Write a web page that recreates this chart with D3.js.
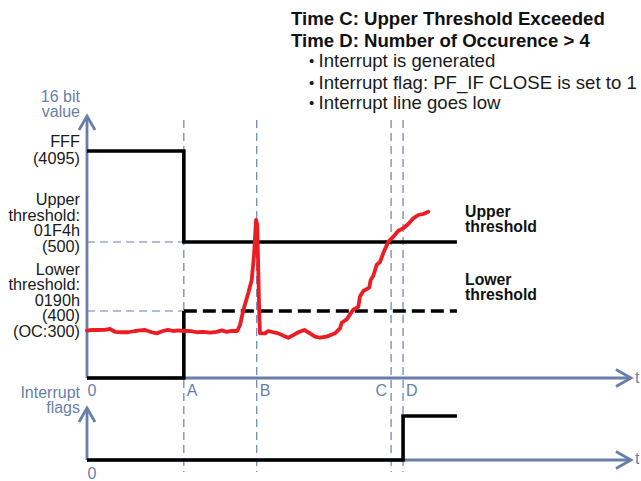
<!DOCTYPE html>
<html><head><meta charset="utf-8">
<script src="https://cdn.jsdelivr.net/npm/d3@7"></script>
<style>
html,body{margin:0;padding:0;background:#fff;}
svg{display:block;font-family:"Liberation Sans",Arial,Helvetica,sans-serif;}
</style></head>
<body>
<svg id="chart" width="641" height="481"></svg>
<script>
// ---------- data ----------
const eventNames = ["A", "B", "C", "D"];
const eventTimes = [17.8, 31.2, 55.9, 58.1];
const lineEnd = 68;

const yTickValues = [4095, 500, 400];
const yTickLabels = [["FFF", "(4095)"], ["Upper", "threshold:", "01F4h", "(500)"], ["Lower", "threshold:", "0190h", "(400)", "(OC:300)"]];

const upperSigT = [0, 17.8, 17.8, 68];
const upperSigV = [4095, 4095, 500, 500];
const lowerSolidT = [0, 17.8, 17.8];
const lowerSolidV = [0, 0, 400];
const lowerDashT = [17.8, 68];
const lowerDashV = [400, 400];

const flagT = [0, 58.1, 58.1, 68];
const flagV = [0, 0, 1, 1];

const redT = [0, 0.92, 2.02, 3.31, 4.23, 5.15, 6.38, 7.54, 8.82, 9.74, 10.66, 11.89, 12.81, 13.97, 14.89, 15.81, 16.73, 17.65,
  19.0, 20.17, 21.32, 22.61, 23.84, 24.76, 25.68, 26.6, 27.63, 28.13, 28.73, 29.65, 30.28, 30.7, 31.07, 31.3, 31.49, 31.67, 31.8,
  32.72, 33.33, 34.25, 35.17, 36.09, 37.0, 37.92, 38.84, 39.94, 40.99, 41.91, 42.83, 44.06, 45.59, 46.51, 46.82, 47.74, 48.47,
  48.95, 49.87, 50.18, 50.79, 51.89, 52.15, 52.63, 53.25, 53.86, 54.47, 55.39, 56.31, 57.22, 58.14, 59.06, 59.98, 60.9, 61.82, 62.74];
const redV = [302, 305, 305, 306, 310, 295, 292, 292, 300, 303, 305, 292, 285, 300, 306, 300, 303, 300,
  300, 292, 295, 289, 294, 303, 294, 301, 300, 330, 401, 426, 445, 481, 1369, 1172, 457, 380, 285,
  285, 300, 292, 285, 270, 257, 274, 292, 305, 285, 264, 257, 264, 285, 313, 341, 358, 388,
  402, 406, 421, 429, 434, 445, 451, 467, 471, 484, 512, 709, 946, 1041, 1211, 1436, 1567, 1606, 1697];

const titleLines = ["Time C: Upper Threshold Exceeded", "Time D: Number of Occurence > 4"];
const bulletLines = ["Interrupt is generated", "Interrupt flag: PF_IF CLOSE is set to 1", "Interrupt line goes low"];
const rightLabels = [["Upper", "threshold"], ["Lower", "threshold"]];

// ---------- drawing ----------
const axisColor = "#6a7fa8";
const svg = d3.select("#chart");

const x = d3.scaleLinear().domain([0, 100]).range([87, 631]);
const y = d3.scaleLinear().domain([0, 300, 400, 500, 4095]).range([378, 331, 311, 242, 151]);
const yFlag = d3.scaleLinear().domain([0, 1]).range([460, 416]);

// event dashed verticals
svg.append("g").selectAll("line").data(eventTimes).join("line")
  .attr("x1", d => x(d)).attr("x2", d => x(d))
  .attr("y1", 120).attr("y2", 472)
  .attr("stroke", axisColor).attr("stroke-width", 1.2).attr("stroke-dasharray", "8,5");

// horizontal threshold guides
svg.append("g").selectAll("line").data([500, 400]).join("line")
  .attr("x1", x(0)).attr("x2", x(eventTimes[0]))
  .attr("y1", d => y(d)).attr("y2", d => y(d))
  .attr("stroke", axisColor).attr("stroke-width", 1.2).attr("stroke-dasharray", "8,5");

// axes
function hArrow(yy) {
  svg.append("line").attr("x1", x(0)).attr("x2", x(100)).attr("y1", yy).attr("y2", yy)
    .attr("stroke", axisColor).attr("stroke-width", 2.8);
  svg.append("path").attr("d", `M${x(100) - 15},${yy - 8.5}L${x(100)},${yy}L${x(100) - 15},${yy + 8.5}`)
    .attr("fill", "none").attr("stroke", axisColor).attr("stroke-width", 2.8).attr("stroke-linejoin", "miter");
}
function vArrow(y0, y1) {
  svg.append("line").attr("x1", x(0)).attr("x2", x(0)).attr("y1", y0).attr("y2", y1)
    .attr("stroke", axisColor).attr("stroke-width", 2.8);
  svg.append("path").attr("d", `M${x(0) - 8},${y1 + 14}L${x(0)},${y1}L${x(0) + 8},${y1 + 14}`)
    .attr("fill", "none").attr("stroke", axisColor).attr("stroke-width", 2.8);
}
hArrow(y(0));
hArrow(yFlag(0));
vArrow(y(0), 116);
vArrow(yFlag(0), 408);

// signal lines
const line = d3.line().x(d => x(d[0])).y(d => y(d[1]));
const zip = (a, b) => a.map((v, i) => [v, b[i]]);
svg.append("path").attr("d", line(zip(upperSigT, upperSigV)))
  .attr("fill", "none").attr("stroke", "#000").attr("stroke-width", 3.6).attr("stroke-linejoin", "miter");
svg.append("path").attr("d", line(zip(lowerSolidT, lowerSolidV)))
  .attr("fill", "none").attr("stroke", "#000").attr("stroke-width", 3.6).attr("stroke-linejoin", "miter");
svg.append("path").attr("d", line(zip(lowerDashT, lowerDashV)))
  .attr("fill", "none").attr("stroke", "#000").attr("stroke-width", 3.6).attr("stroke-dasharray", "13,6");
const flagLine = d3.line().x(d => x(d[0])).y(d => yFlag(d[1]));
svg.append("path").attr("d", flagLine(zip(flagT, flagV)))
  .attr("fill", "none").attr("stroke", "#000").attr("stroke-width", 3.6).attr("stroke-linejoin", "miter");

// red measured signal
svg.append("path").attr("d", d3.line().x(d => x(d[0])).y(d => y(d[1])).curve(d3.curveLinear)(zip(redT, redV)))
  .attr("fill", "none").attr("stroke", "#ec1c24").attr("stroke-width", 3.8)
  .attr("stroke-linejoin", "round").attr("stroke-linecap", "round");

// left tick labels
const lblX = 80;
const fsL = 16.3;
const labelBase = [[147, 164], [205, 220.5, 236, 251.5], [275, 290, 305.5, 321, 337]];
yTickLabels.forEach((lines, i) => {
  const t = svg.append("text").attr("text-anchor", "end").attr("font-size", fsL).attr("fill", "#1a1a1a");
  lines.forEach((s, j) => t.append("tspan").attr("x", lblX).attr("y", labelBase[i][j]).text(s));
});

// axis titles
const ax1 = svg.append("text").attr("text-anchor", "end").attr("font-size", 16).attr("fill", axisColor);
ax1.append("tspan").attr("x", lblX).attr("y", 102).text("16 bit");
ax1.append("tspan").attr("x", lblX).attr("y", 117).text("value");
const ax2 = svg.append("text").attr("text-anchor", "end").attr("font-size", 16).attr("fill", axisColor);
ax2.append("tspan").attr("x", lblX).attr("y", 398).text("Interrupt");
ax2.append("tspan").attr("x", lblX).attr("y", 413).text("flags");

// zero / t / event labels
svg.append("text").attr("x", x(0) + 0.5).attr("y", 396).attr("font-size", 16).attr("fill", axisColor).text("0");
svg.append("text").attr("x", x(0) + 0.5).attr("y", 479).attr("font-size", 16).attr("fill", axisColor).text("0");
svg.append("text").attr("x", 635).attr("y", 383).attr("font-size", 16).attr("fill", axisColor).text("t");
svg.append("text").attr("x", 635).attr("y", 464).attr("font-size", 16).attr("fill", axisColor).text("t");
eventNames.forEach((n, i) => {
  const left = n === "C";
  svg.append("text").attr("x", x(eventTimes[i]) + (left ? -4 : 3)).attr("y", 396)
    .attr("text-anchor", left ? "end" : "start")
    .attr("font-size", 16).attr("fill", axisColor).text(n);
});

// right labels
const rightBase = [[217, 232], [285, 300]];
rightLabels.forEach((lines, i) => {
  const t = svg.append("text").attr("font-size", 15.8).attr("font-weight", "bold").attr("fill", "#111");
  lines.forEach((s, j) => t.append("tspan").attr("x", 465).attr("y", rightBase[i][j]).text(s));
});

// top annotation
titleLines.forEach((s, i) => {
  svg.append("text").attr("x", 291).attr("y", [25, 46.5][i]).attr("font-size", 18.6)
    .attr("font-weight", "bold").attr("fill", "#111").text(s);
});
bulletLines.forEach((s, i) => {
  const yy = [67, 88.5, 108.5][i];
  svg.append("text").attr("x", 309).attr("y", yy - 1).attr("font-size", 15).attr("fill", "#1a1a1a").text("\u2022");
  svg.append("text").attr("x", 318.5).attr("y", yy).attr("font-size", 18.6).attr("fill", "#1a1a1a").text(s);
});
</script>
</body></html>
